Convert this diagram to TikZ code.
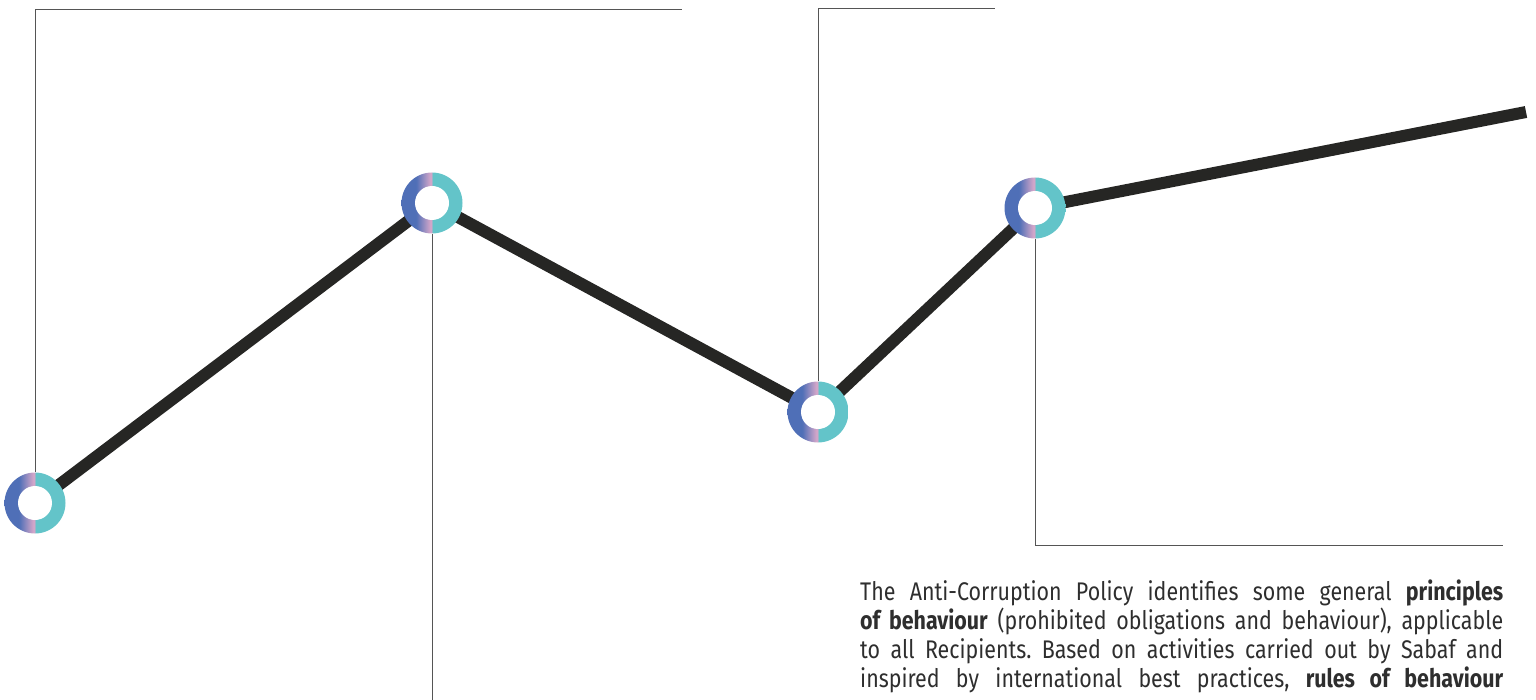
\documentclass[tikz,border=0pt]{standalone}
\usepackage{fontspec}
\setmainfont{Fira Sans}[FakeStretch=0.84]
\definecolor{rblue}{HTML}{4F6FB7}
\definecolor{rpink}{HTML}{D2A6C9}
\definecolor{rteal}{HTML}{63C4C9}
\definecolor{pathdark}{HTML}{262624}
\definecolor{thingrey}{HTML}{555555}
\definecolor{textgrey}{HTML}{2E2E2E}
\pgfdeclarehorizontalshading{ringshade}{100bp}{color(0bp)=(rblue); color(37bp)=(rblue); color(48.5bp)=(rpink); color(49.8bp)=(rpink); color(50bp)=(rteal); color(100bp)=(rteal)}
\tikzset{
  ring/.style={circle, minimum size=61pt, inner sep=0pt, shading=ringshade,
    path picture={\fill[white] (path picture bounding box.center) circle (17pt);}},
  trail/.style={line width=12pt, draw=pathdark, line cap=butt, line join=miter},
  leader/.style={draw=thingrey, line width=1pt},
  bodytext/.style={anchor=north west, inner sep=0pt, text width=643pt, align=justify,
    font=\fontsize{25.5}{29}\selectfont, text=textgrey}
}
\begin{document}
\begin{tikzpicture}[x=1pt, y=-1pt]
\useasboundingbox (0,0) rectangle (1536,700);
\coordinate (A) at (35,503);
\coordinate (B) at (432,203);
\coordinate (C) at (818,412);
\coordinate (D) at (1035,208);
\coordinate (E) at (1526,112);
\draw[trail] (A) -- (B) -- (C) -- (D) -- (E);
\node[ring] (RA) at (A) {};
\node[ring] (RB) at (B) {};
\node[ring] (RC) at (C) {};
\node[ring] (RD) at (D) {};
\coordinate (a1) at (682,10);
\coordinate (b1) at (432,700);
\coordinate (c1) at (995,9);
\coordinate (d1) at (1503,545);
\draw[leader] (RA.north) |- (a1);
\draw[leader] (RB.south) -- (b1);
\draw[leader] (RC.north) |- (c1);
\draw[leader] (RD.south) |- (d1);
\node[bodytext] (T) at (860,580) {\frenchspacing\parfillskip=0pt
The Anti-Corruption Policy identifies some general \textbf{principles}\linebreak
\textbf{of behaviour} (prohibited obligations and behaviour), applicable\linebreak
to all Recipients. Based on activities carried out by Sabaf and\linebreak
inspired by international best practices, \textbf{rules of behaviour}\par};
\end{tikzpicture}
\end{document}
